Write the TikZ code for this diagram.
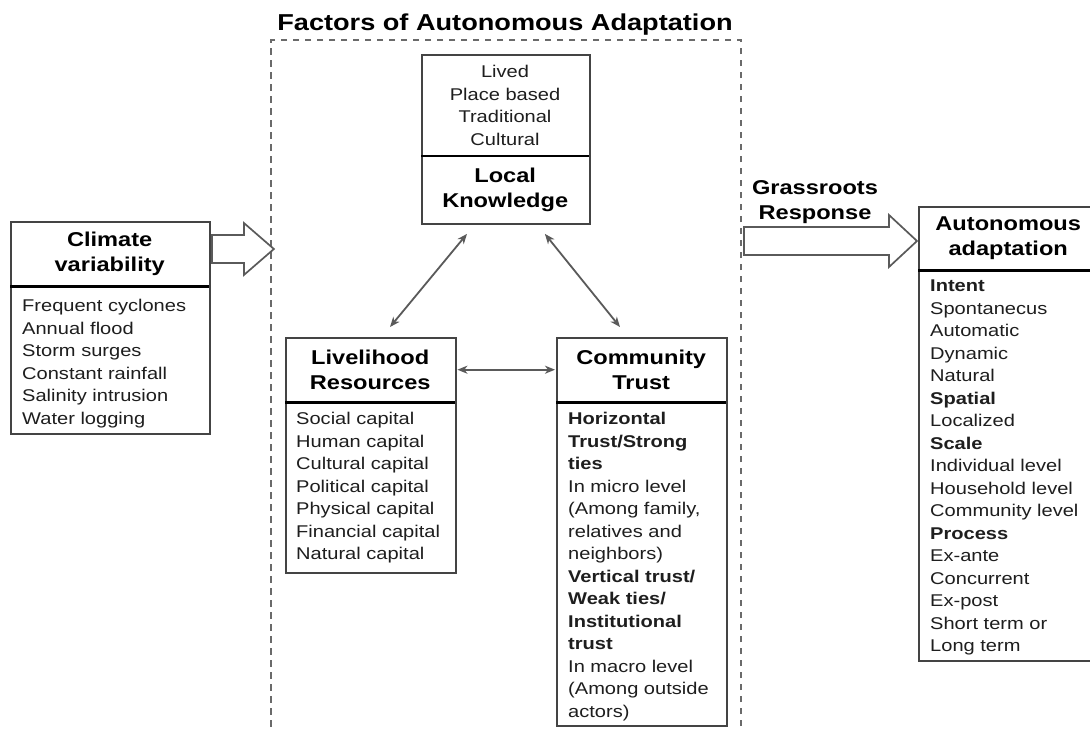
\documentclass[tikz,border=0pt]{standalone}
\usepackage{fontspec}
\setmainfont{Liberation Sans}[FakeStretch=1.18]
\usetikzlibrary{arrows.meta,calc}
\definecolor{ink}{HTML}{1E1E1E}
\definecolor{edge}{HTML}{444444}
\definecolor{linkgray}{HTML}{5A5A5A}
\definecolor{dashgray}{HTML}{6A6A6A}
\begin{document}
\begin{tikzpicture}[x=1pt,y=-1pt,
  boxframe/.style={draw=edge, line width=1.9pt, inner sep=0pt, anchor=north west},
  headtxt/.style={font=\fontsize{20}{25}\selectfont\bfseries, text=black, align=center, inner sep=0pt, anchor=north west},
  bodytxt/.style={font=\fontsize{17}{22.5}\selectfont, text=ink, align=left, inner sep=0pt, anchor=north west},
  divider/.style={draw=black, line width=2.8pt},
  link/.style={draw=linkgray, line width=1.8pt, {Stealth[length=10pt,width=8pt,inset=3pt]}-{Stealth[length=10pt,width=8pt,inset=3pt]}},
  blockarrow/.style={draw=linkgray, line width=1.7pt, fill=white, line join=miter},
  groupframe/.style={draw=dashgray, line width=2pt, dash pattern=on 6.5pt off 5.5pt, inner sep=0pt, anchor=north west},
]
\useasboundingbox (0,0) rectangle (1090,731);
\fill[white] (0,0) rectangle (1090,731);
\clip (0,0) rectangle (1090,731);

% group of factors
\node[font=\fontsize{23}{27}\selectfont\bfseries, text=black] (title) at (505,24.5) {Factors of Autonomous Adaptation};
\node[groupframe, minimum width=470, minimum height=720] (fr) at (270,39) {};

% climate variability
\node[boxframe, minimum width=199, minimum height=212] (cv) at (10,221) {};
\node[headtxt, minimum width=199, minimum height=65] (cvh) at (10,221) {Climate\\variability};
\draw[divider] (cvh.south west) -- (cvh.south east);
\node[bodytxt] (cvb) at (22,299) {Frequent cyclones\\Annual flood\\Storm surges\\Constant rainfall\\Salinity intrusion\\Water logging};

% local knowledge
\node[boxframe, minimum width=168, minimum height=169] (lk) at (421,54) {};
\node[bodytxt, align=center, anchor=north] (lkb) at (505,65) {Lived\\Place based\\Traditional\\Cultural};
\node[headtxt, minimum width=168, minimum height=67] (lkh) at (421,156) {Local\\Knowledge};
\draw[divider] (lkh.north west) -- (lkh.north east);

% livelihood resources
\node[boxframe, minimum width=170, minimum height=235] (lr) at (285,337) {};
\node[headtxt, minimum width=170, minimum height=65] (lrh) at (285,337) {Livelihood\\Resources};
\draw[divider] (lrh.south west) -- (lrh.south east);
\node[bodytxt] (lrb) at (296,412) {Social capital\\Human capital\\Cultural capital\\Political capital\\Physical capital\\Financial capital\\Natural capital};

% community trust
\node[boxframe, minimum width=170, minimum height=388] (ct) at (556,337) {};
\node[headtxt, minimum width=170, minimum height=65] (cth) at (556,337) {Community\\Trust};
\draw[divider] (cth.south west) -- (cth.south east);
\node[bodytxt] (ctb) at (568,412) {\textbf{Horizontal}\\\textbf{Trust/Strong}\\\textbf{ties}\\In micro level\\(Among family,\\relatives and\\neighbors)\\\textbf{Vertical trust/}\\\textbf{Weak ties/}\\\textbf{Institutional}\\\textbf{trust}\\In macro level\\(Among outside\\actors)};

% autonomous adaptation
\node[boxframe, minimum width=180, minimum height=454] (aa) at (918,206) {};
\node[headtxt, minimum width=180, minimum height=64] (aah) at (918,206) {Autonomous\\adaptation};
\draw[divider] (aah.south west) -- (aah.south east);
\node[bodytxt] (aab) at (930,280) {\textbf{Intent}\\Spontanecus\\Automatic\\Dynamic\\Natural\\\textbf{Spatial}\\Localized\\\textbf{Scale}\\Individual level\\Household level\\Community level\\\textbf{Process}\\Ex-ante\\Concurrent\\Ex-post\\Short term or\\Long term};

% links between the factors
\draw[link] ($(lk.south west)+(46,9)$) -- ($(lr.north west)+(105,-10)$);
\draw[link] ($(lk.south east)+(-46,9)$) -- ($(ct.north west)+(64,-10)$);
\draw[link] ($(lrh.east)+(2,0)$) -- ($(cth.west)+(-1,0)$);

% hollow block arrows
\path (cv.north east) ++(1,28) coordinate (inStart);
\draw[blockarrow] (inStart) ++(0,-14) -- ++(32,0) -- ++(0,-12) -- ++(30,26) -- ++(-30,26) -- ++(0,-12) -- ++(-32,0) -- cycle;
\path (fr.north east) ++(2,202) coordinate (outStart);
\draw[blockarrow] (outStart) ++(0,-14) -- ++(145,0) -- ++(0,-12) -- ++(28,26) -- ++(-28,26) -- ++(0,-12) -- ++(-145,0) -- cycle;
\node[headtxt, anchor=center] (gr) at (815,202) {Grassroots\\Response};
\end{tikzpicture}
\end{document}
